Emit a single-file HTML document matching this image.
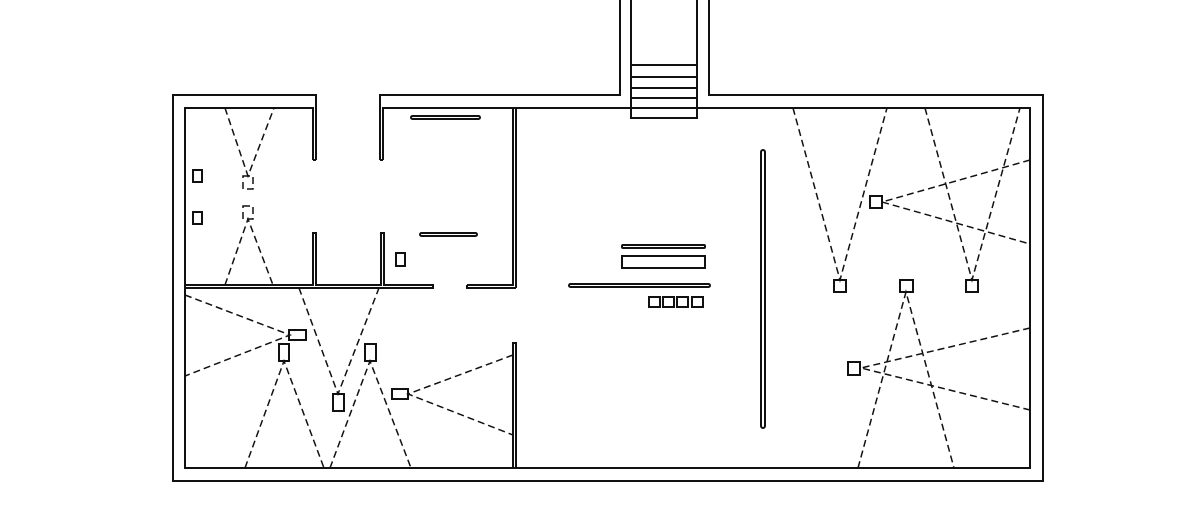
<!DOCTYPE html>
<html><head><style>html,body{margin:0;padding:0;background:#fff;}svg{display:block}</style></head>
<body>
<svg width="1200" height="511" viewBox="0 0 1200 511" xmlns="http://www.w3.org/2000/svg">
<g fill="none" stroke="#111" stroke-width="2" stroke-linejoin="miter">
<path d="M316 160 L316 95 L173 95 L173 481 L1043 481 L1043 95 L709 95 L709 0"/>
<path d="M620 0 L620 95 L380 95 L380 160"/>
<path d="M313 160 L313 108 L185 108 L185 468 L1030 468 L1030 108 L383 108 L383 160"/>
<path d="M313 160 L316 160 M380 160 L383 160"/>
<rect x="631" y="-2" width="66" height="120" fill="#fff"/>
<path d="M631 65H697M631 77H697M631 88H697M631 98H697M631 108H697"/>
<path d="M185 285 L313 285 L313 233 L316 233 L316 285 L381 285 L381 233 L384 233 L384 285 L433 285 L433 288 L185 288"/>
<path d="M467 285 L513 285 L513 108 M516 108 L516 286 M467 285 L467 288 L516 288"/>
<path d="M513 468 L513 343 L516 343 L516 468"/>
<line x1="516" y1="286" x2="516" y2="288"/>
<rect x="411" y="116" width="69" height="3" rx="1.5"/>
<rect x="420" y="233" width="57" height="3" rx="1.5"/>
<rect x="622" y="245" width="83" height="3" rx="1"/>
<rect x="622" y="256" width="83" height="12"/>
<rect x="569" y="284" width="141" height="3" rx="1.5"/>
<rect x="761" y="150" width="4" height="278" rx="2"/>
<rect x="193" y="170" width="9" height="12"/>
<rect x="193" y="212" width="9" height="12"/>
<rect x="396" y="253" width="9" height="13"/>
<rect x="649" y="297" width="11" height="10"/>
<rect x="663" y="297" width="11" height="10"/>
<rect x="677" y="297" width="11" height="10"/>
<rect x="692" y="297" width="11" height="10"/>
<rect x="289" y="330" width="17" height="10"/>
<rect x="279" y="344" width="10" height="17"/>
<rect x="333" y="394" width="11" height="17"/>
<rect x="365" y="344" width="11" height="17"/>
<rect x="392" y="389" width="16" height="10"/>
<rect x="870" y="196" width="12" height="12"/>
<rect x="834" y="280" width="12" height="12"/>
<rect x="900" y="280" width="13" height="12"/>
<rect x="966" y="280" width="12" height="12"/>
<rect x="848" y="362" width="12" height="13"/>
</g>
<g fill="none" stroke="#111" stroke-width="1.5" stroke-dasharray="7 4">
<rect x="243" y="176" width="10" height="13"/>
<rect x="243" y="206" width="10" height="13"/>
<path d="M225 108 L248 176 L274 108"/>
<path d="M225 285 L248 219 L273 285"/>
<path d="M185 295 L290 335 L185 376"/>
<path d="M245 468 L284 361 L324 468"/>
<path d="M299 288 L338 394 L379 288"/>
<path d="M330 468 L370 361 L411 468"/>
<path d="M513 355 L408 394 L513 435"/>
<path d="M1030 160 L882 202 L1030 244"/>
<path d="M793 108 L840 280 L887 108"/>
<path d="M925 108 L972 280 L1020 108"/>
<path d="M858 468 L906 292 L954 468"/>
<path d="M1030 328 L861 368 L1030 410"/>
</g>
</svg>
</body></html>
